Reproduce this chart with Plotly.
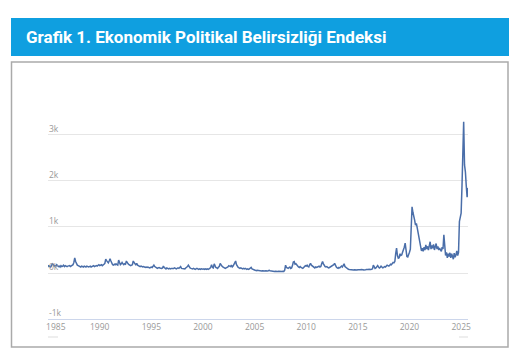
import plotly.graph_objects as go
import pandas as pd

# Monthly index values, Jan 1985 .. Sep 2025
values_by_year = {
    1985: [170, 140, 150, 130, 160, 200, 190, 150, 160, 150, 180, 160],
    1986: [140, 150, 130, 160, 140, 150, 170, 140, 160, 150, 140, 150],
    1987: [150, 160, 140, 150, 170, 180, 230, 330, 250, 200, 170, 160],
    1988: [150, 140, 130, 150, 140, 130, 150, 140, 130, 150, 140, 130],
    1989: [140, 150, 130, 140, 150, 160, 140, 150, 160, 150, 170, 180],
    1990: [160, 170, 180, 160, 170, 190, 210, 300, 270, 230, 220, 260],
    1991: [310, 260, 200, 180, 170, 190, 180, 200, 180, 170, 280, 220],
    1992: [180, 200, 230, 200, 180, 200, 190, 260, 220, 200, 180, 170],
    1993: [160, 170, 180, 260, 220, 200, 180, 210, 170, 160, 150, 140],
    1994: [150, 140, 130, 140, 130, 120, 130, 120, 130, 120, 110, 120],
    1995: [130, 120, 140, 170, 140, 120, 110, 100, 110, 120, 110, 100],
    1996: [100, 110, 150, 120, 100, 90, 110, 100, 90, 100, 90, 100],
    1997: [100, 90, 100, 110, 100, 90, 100, 110, 100, 120, 140, 100],
    1998: [100, 90, 100, 90, 110, 120, 140, 170, 130, 110, 100, 90],
    1999: [90, 100, 90, 80, 90, 100, 90, 80, 90, 80, 90, 80],
    2000: [80, 90, 80, 90, 80, 90, 80, 90, 100, 130, 180, 120],
    2001: [110, 200, 150, 120, 110, 100, 130, 140, 210, 170, 150, 130],
    2002: [120, 110, 100, 110, 120, 130, 160, 150, 140, 170, 130, 150],
    2003: [200, 230, 260, 180, 140, 120, 110, 100, 110, 100, 90, 100],
    2004: [90, 100, 90, 80, 90, 80, 90, 100, 120, 90, 80, 70],
    2005: [60, 55, 50, 60, 55, 50, 45, 50, 45, 50, 45, 50],
    2006: [45, 50, 40, 45, 50, 60, 50, 45, 40, 45, 40, 35],
    2007: [40, 35, 40, 35, 40, 35, 30, 40, 35, 40, 35, 60],
    2008: [170, 120, 110, 100, 120, 130, 100, 110, 160, 240, 250, 190],
    2009: [200, 170, 150, 130, 120, 140, 120, 110, 100, 120, 140, 160],
    2010: [150, 170, 140, 130, 180, 210, 170, 150, 130, 120, 110, 130],
    2011: [120, 130, 140, 150, 130, 140, 200, 250, 200, 160, 140, 130],
    2012: [140, 120, 110, 120, 130, 140, 150, 160, 180, 210, 150, 130],
    2013: [110, 100, 120, 110, 130, 150, 130, 170, 200, 140, 120, 100],
    2014: [90, 80, 75, 70, 80, 75, 70, 65, 70, 65, 60, 65],
    2015: [70, 65, 60, 70, 75, 80, 70, 65, 60, 70, 75, 70],
    2016: [75, 80, 70, 75, 80, 90, 170, 120, 100, 110, 140, 160],
    2017: [130, 110, 120, 150, 130, 110, 120, 140, 130, 150, 170, 160],
    2018: [150, 170, 190, 180, 210, 230, 220, 250, 420, 540, 380, 320],
    2019: [330, 420, 380, 390, 450, 500, 560, 650, 480, 360, 350, 430],
    2020: [450, 520, 1100, 1440, 1320, 1250, 1150, 1040, 1080, 980, 860, 780],
    2021: [600, 570, 480, 540, 470, 560, 500, 610, 520, 580, 500, 640],
    2022: [680, 520, 600, 540, 620, 500, 560, 640, 520, 580, 500, 540],
    2023: [500, 470, 560, 520, 830, 460, 380, 450, 330, 420, 360, 440],
    2024: [330, 420, 350, 300, 430, 340, 390, 480, 380, 450, 1120, 1220],
    2025: [1300, 1900, 2600, 3290, 2350, 2200, 1900, 1650, 1850],
}

tick_years = [1985, 1990, 1995, 2000, 2005, 2010, 2015, 2020, 2025]
y_tick_vals = [-1000, 0, 1000, 2000, 3000]
y_tick_text = ["-1k", "0k", "1k", "2k", "3k"]
title_text = "Grafik 1. Ekonomik Politikal Belirsizliği Endeksi"

dates, vals = [], []
for yr, arr in values_by_year.items():
    for m, v in enumerate(arr):
        dates.append(pd.Timestamp(year=yr, month=m + 1, day=1))
        vals.append(v)

# The page body adds an 8px offset; all pixel positions below are
# screen positions minus that offset.
OFF = 8
W, H = 522 - OFF, 358 - OFF
L, R, T, B = 48 - OFF, 468 - OFF, 113 - OFF, 319 - OFF   # plot area
Y_RANGE = [-1000, 3478]


def px(xs):
    return (xs - OFF - L) / (R - L)


def py(ys):
    return (B - (ys - OFF)) / (B - T)


fig = go.Figure()
fig.add_trace(go.Scatter(x=dates, y=vals, mode="lines",
                         line=dict(color="#4a6ea9", width=1.5),
                         hoverinfo="skip", showlegend=False))

label_font = dict(family="Open Sans", size=8.5, color="#999999")
tick_text = [("\u00a0" * 7 + str(y)) if y == 1985 else str(y) for y in tick_years]

fig.update_layout(
    width=W, height=H,
    margin=dict(l=L, r=W - R, t=T, b=H - B, pad=0),
    paper_bgcolor="white", plot_bgcolor="white",
    font=dict(family="Open Sans", size=8.5, color="#999999"),
    xaxis=dict(
        type="date",
        range=[pd.Timestamp("1984-12-28"), dates[-1]],
        tickvals=[pd.Timestamp(year=y, month=1, day=1) for y in tick_years],
        ticktext=tick_text,
        ticklabeloverflow="allow",
        showgrid=False, zeroline=False,
        showline=True, linecolor="#ccd6eb", linewidth=1,
        ticks="",
        tickfont=label_font,
        fixedrange=True,
    ),
    yaxis=dict(
        range=Y_RANGE,
        tickvals=y_tick_vals, ticktext=y_tick_text,
        side="right", anchor="free", position=0, automargin=False,
        showgrid=True, gridcolor="#e6e6e6", gridwidth=1,
        zeroline=False, showline=False, ticks="",
        ticklabelposition="outside top",
        tickfont=label_font,
        fixedrange=True,
    ),
    shapes=[
        # blue header bar
        dict(type="rect", xref="paper", yref="paper",
             x0=px(11), x1=px(509), y0=py(56), y1=py(18),
             fillcolor="#0f9fe0", line=dict(width=0), layer="below"),
        # gray frame
        dict(type="rect", xref="paper", yref="paper",
             x0=px(11.5), x1=px(508), y0=py(347), y1=py(62),
             fillcolor="rgba(0,0,0,0)", line=dict(color="#aaaaaa", width=1.5),
             layer="below"),
        # small navigator marks
        dict(type="line", xref="paper", yref="paper",
             x0=px(48), x1=px(58), y0=py(337), y1=py(337),
             line=dict(color="#dddddd", width=1)),
        dict(type="line", xref="paper", yref="paper",
             x0=px(459), x1=px(468), y0=py(337), y1=py(337),
             line=dict(color="#dddddd", width=1)),
    ],
    annotations=[
        dict(text="<b>" + title_text + "</b>", xref="paper", yref="paper",
             x=px(24), y=py(37), xanchor="left", yanchor="middle",
             showarrow=False,
             font=dict(family="Roboto", size=17, color="white")),
    ],
)

fig.write_html("out.html")
